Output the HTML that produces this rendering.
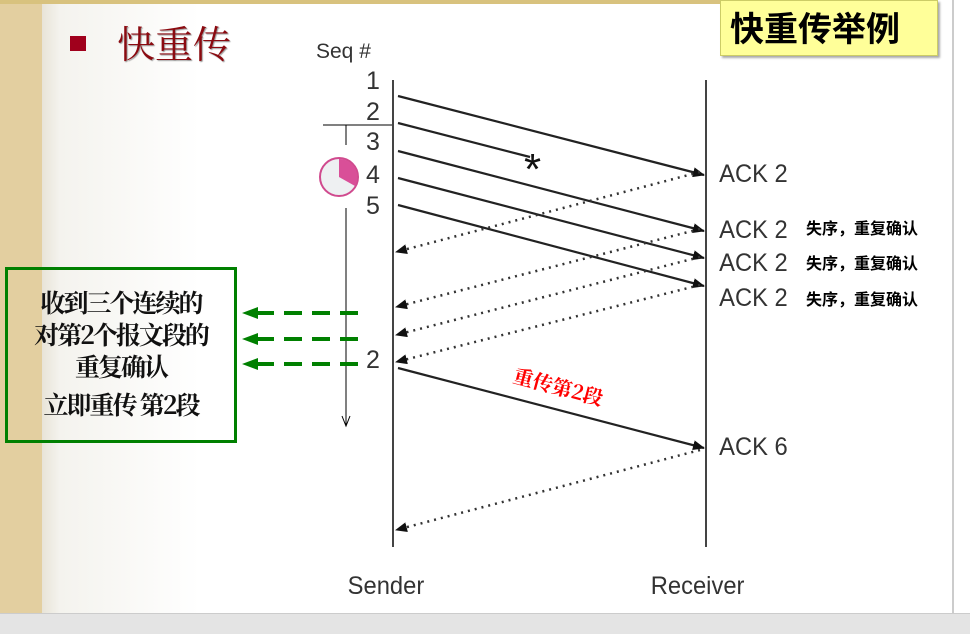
<!DOCTYPE html>
<html><head><meta charset="utf-8"><style>
body{margin:0;width:970px;height:633px;overflow:hidden;position:relative;background:#e6e6e6;font-family:"Liberation Sans","Noto Sans CJK SC",sans-serif}
.abs{position:absolute}
</style></head><body>
<div class="abs" style="left:0;top:0;width:970px;height:613px;background:linear-gradient(90deg,#e8e4d8 42px,#f4f3ee 60px,#fff 200px)"></div>
<div class="abs" style="left:0;top:0;width:42px;height:613px;background:#e3cfa0"></div>
<div class="abs" style="left:0;top:0;width:720px;height:4px;background:#d8c27e"></div>
<div class="abs" style="left:296px;top:27px;width:642px;height:586px;background:#fff"></div>
<div class="abs" style="left:952px;top:0;width:2px;height:613px;background:#ccc"></div>
<div class="abs" style="left:938px;top:0;width:14px;height:613px;background:#fff"></div>
<div class="abs" style="left:954px;top:0;width:16px;height:613px;background:#fff"></div>
<div class="abs" style="left:0;top:613px;width:970px;height:20px;background:#e4e4e4;border-top:1px solid #ccc"></div>
<div class="abs" style="left:70px;top:36px;width:16px;height:15px;background:#a0001c"></div>
<div class="abs" style="left:117px;top:14px;font-family:'Noto Serif CJK SC',serif;font-size:38px;color:#8b0a10;text-shadow:1px 1px 1px #999">快重传</div>
<div class="abs" style="left:720px;top:0;width:216px;height:54px;background:#ffff99;border:1px solid #cccc66;box-shadow:2px 2px 2px #aaa"></div>
<div class="abs" style="left:730px;top:6px;font-size:34px;font-weight:bold;color:#000;font-family:'Noto Sans CJK SC',sans-serif;line-height:42px">快重传举例</div>
<svg class="abs" style="left:0;top:0" width="970" height="633">
<defs>
<marker id="a" markerWidth="12" markerHeight="10" refX="11" refY="5" orient="auto" markerUnits="userSpaceOnUse"><path d="M0,0 L12,5 L0,10z" fill="#111"/></marker>
</defs>
<g font-family="Liberation Sans,sans-serif" fill="#333" font-size="25">
<text x="316" y="58" font-size="21">Seq #</text>
<text x="366" y="89">1</text><text x="366" y="120">2</text><text x="366" y="150">3</text><text x="366" y="183">4</text><text x="366" y="214">5</text><text x="366" y="368">2</text>
<g transform="scale(0.95,1)">
<text x="757" y="182">ACK 2</text><text x="757" y="238">ACK 2</text><text x="757" y="271">ACK 2</text><text x="757" y="306">ACK 2</text><text x="757" y="455">ACK 6</text>
<text x="366" y="594">Sender</text><text x="685" y="594">Receiver</text>
</g>
</g>
<g font-family="Noto Sans CJK SC,sans-serif" font-size="16" font-weight="bold" fill="#000">
<text x="806" y="234">失序，重复确认</text><text x="806" y="269">失序，重复确认</text><text x="806" y="305">失序，重复确认</text>
</g>
<line x1="393" y1="80" x2="393" y2="547" stroke="#444" stroke-width="2"/>
<line x1="706" y1="80" x2="706" y2="547" stroke="#444" stroke-width="2"/>
<g stroke="#222" stroke-width="2.2" fill="none">
<line x1="398" y1="96" x2="704" y2="175" marker-end="url(#a)"/>
<line x1="398" y1="123" x2="530" y2="157"/>
<line x1="398" y1="151" x2="704" y2="231" marker-end="url(#a)"/>
<line x1="398" y1="178" x2="704" y2="258" marker-end="url(#a)"/>
<line x1="398" y1="205" x2="704" y2="286" marker-end="url(#a)"/>
<line x1="398" y1="368" x2="704" y2="448" marker-end="url(#a)"/>
</g>
<g stroke="#333" stroke-width="2.5" stroke-dasharray="2,5" fill="none">
<line x1="700" y1="172" x2="396" y2="252" marker-end="url(#a)"/>
<line x1="700" y1="229" x2="396" y2="307" marker-end="url(#a)"/>
<line x1="700" y1="257" x2="396" y2="335" marker-end="url(#a)"/>
<line x1="700" y1="285" x2="396" y2="362" marker-end="url(#a)"/>
<line x1="700" y1="450" x2="396" y2="530" marker-end="url(#a)"/>
</g>
<text x="524" y="184" font-size="44" font-family="Liberation Sans,sans-serif" fill="#111">*</text>
<g stroke="#000" stroke-width="1">
<line x1="323" y1="125" x2="392" y2="125"/><line x1="346" y1="125" x2="346" y2="145"/>
<line x1="346" y1="208" x2="346" y2="425"/><path d="M342,416 L346,426 L350,416" fill="none"/>
</g>
<circle cx="339" cy="177" r="19" fill="#eef0f2" stroke="#d04a8e" stroke-width="2"/>
<path d="M339,177 L339,159 A18,18 0 0 1 355,186 z" fill="#d94f98"/>
<g stroke="#008000" stroke-width="4" stroke-dasharray="18,10" fill="none">
<line x1="358" y1="313" x2="256" y2="313"/><line x1="358" y1="339" x2="256" y2="339"/><line x1="358" y1="364" x2="256" y2="364"/>
</g>
<g fill="#008000"><path d="M242,313 L258,307 L258,319z"/><path d="M242,339 L258,333 L258,345z"/><path d="M242,364 L258,358 L258,370z"/></g>
<text x="512" y="382" transform="rotate(15 512 382)" font-family="Noto Serif CJK SC,serif" font-size="20" font-weight="bold" fill="#ff0000">重传第2段</text>
</svg>
<div class="abs" style="left:5px;top:267px;width:226px;border:3px solid #008000;font-family:'Noto Serif CJK SC',serif;font-weight:bold;font-size:25px;color:#111;text-align:center;line-height:32px;padding-top:16px;height:154px;letter-spacing:-2px">收到三个连续的<br>对第2个报文段的<br>重复确认<br><span style="line-height:44px">立即重传 第2段</span></div>
</body></html>
